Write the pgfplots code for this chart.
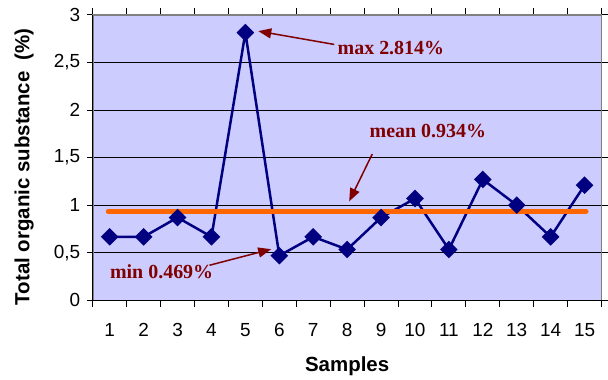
\documentclass[border=0pt]{standalone}
\usepackage{fontspec}
\setmainfont{Liberation Sans}
\newfontfamily\serifb{Liberation Serif}
\usepackage{pgfplots}
\pgfplotsset{compat=1.18}
\usetikzlibrary{arrows.meta}
\definecolor{bgc}{HTML}{CCCCFF}
\definecolor{navyc}{HTML}{000080}
\definecolor{orng}{HTML}{FF6600}
\definecolor{dred}{HTML}{800000}
\begin{document}
\begin{tikzpicture}
\path (-93bp,-79bp) rectangle (515bp,301bp);
\begin{axis}[
  at={(0,0)}, anchor=south west,
  scale only axis, width=510bp, height=286bp,
  xmin=0.5, xmax=15.5, ymin=0, ymax=3,
  xtick={1,2,...,15},
  minor xtick={0.5,1.5,...,15.5},
  ytick={0,0.5,1,1.5,2,2.5,3},
  tick align=outside, major tick length=6bp, minor tick length=7bp,
  tick style={black, line width=1bp},
  major x tick style={draw=none},
  ymajorgrids, major grid style={black, line width=0.8bp},
  axis background/.style={fill=bgc},
  axis line style={draw=gray, line width=1.5bp},
  /pgf/number format/use comma,
  /pgf/number format/assume math mode=true,
  tick label style={font=\fontsize{19bp}{23bp}\selectfont},
  xticklabel style={yshift=-14bp},
  yticklabel style={xshift=-3bp},
  xlabel={\bfseries Samples},
  ylabel={\bfseries Total organic substance\ \ (\%)},
  label style={font=\fontsize{20.5bp}{24bp}\selectfont},
  xlabel style={at={(axis description cs:0.5,-0.231)}, anchor=center},
  ylabel style={at={(axis description cs:-0.135,0.468)}, anchor=center, rotate=0},
  clip=false,
]
\addplot[navyc, line width=2.5bp, mark=square*, mark size=5bp, mark options={rotate=45, solid, fill=navyc}] coordinates {
(1,0.667)(2,0.667)(3,0.87)(4,0.667)(5,2.814)(6,0.469)(7,0.667)(8,0.534)
(9,0.87)(10,1.07)(11,0.534)(12,1.27)(13,1.0)(14,0.667)(15,1.21)};
\addplot[orng, line width=4.5bp, line cap=round] coordinates {(0.95,0.934)(15.05,0.934)};
\draw[black, line width=1bp] (rel axis cs:0,1) -- (rel axis cs:0,0) -- (rel axis cs:1,0);
\draw[dred, line width=1.5bp, -{Triangle[length=13bp,width=10bp]}] (axis cs:7.62,2.69) -- (axis cs:5.38,2.83);
\draw[dred, line width=1.5bp, -{Triangle[length=13bp,width=10bp]}] (axis cs:8.74,1.537) -- (axis cs:8.06,1.04);
\draw[dred, line width=1.5bp, -{Triangle[length=13bp,width=10bp]}] (axis cs:3.94,0.368) -- (axis cs:5.76,0.537);
\node[text=dred, font=\serifb\bfseries\fontsize{20bp}{24bp}\selectfont] at (axis cs:9.29,2.65) {max 2.814\%};
\node[text=dred, font=\serifb\bfseries\fontsize{20bp}{24bp}\selectfont] at (axis cs:10.38,1.78) {mean 0.934\%};
\node[text=dred, font=\serifb\bfseries\fontsize{20bp}{24bp}\selectfont] at (axis cs:2.53,0.305) {min 0.469\%};
\end{axis}
\end{tikzpicture}
\end{document}
